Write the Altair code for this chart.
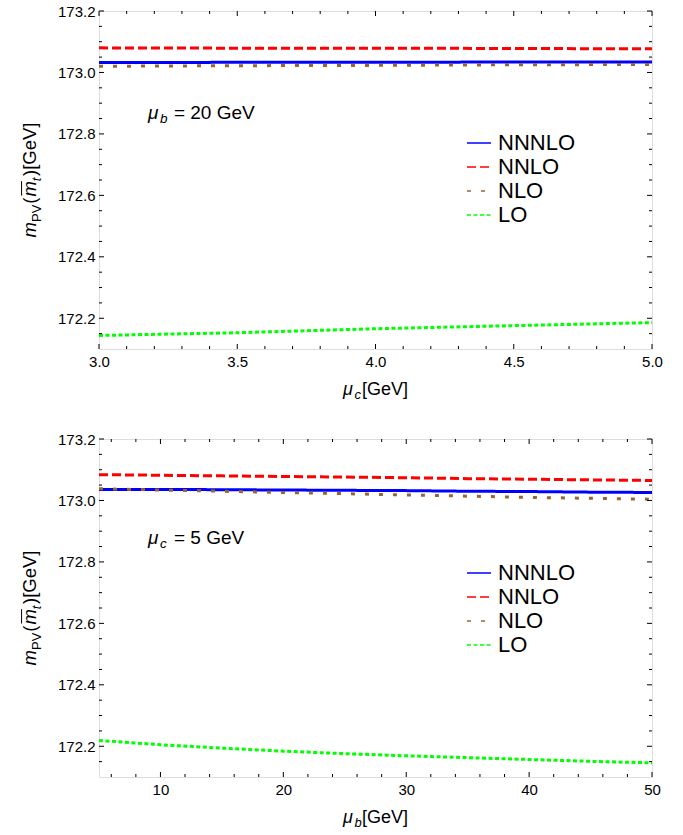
import altair as alt
import pandas as pd

FONT = "Liberation Sans"
SERIES = ["NNNLO", "NNLO", "NLO", "LO"]
COLORS = ["#0000ff", "#ff0000", "#996633", "#00ff00"]
DASHES = [[1, 0], [9, 4], [4, 10], [4, 2.5]]

# ---- top panel: scan in mu_c (mu_b = 20 GeV)
mu_c = [3.0, 3.5, 4.0, 4.5, 5.0]
top_nnnlo = [173.032, 173.033, 173.033, 173.034, 173.034]
top_nnlo = [173.080, 173.079, 173.079, 173.078, 173.077]
top_nlo = [173.020, 173.022, 173.023, 173.025, 173.026]
top_lo = [172.144, 172.153, 172.166, 172.176, 172.186]

# ---- bottom panel: scan in mu_b (mu_c = 5 GeV)
mu_b = [5, 10, 15, 20, 25, 30, 35, 40, 45, 50]
bot_nnnlo = [173.036, 173.036, 173.035, 173.034, 173.033, 173.032, 173.030, 173.029, 173.027, 173.026]
bot_nnlo = [173.084, 173.082, 173.080, 173.078, 173.076, 173.074, 173.071, 173.069, 173.067, 173.065]
bot_nlo = [173.038, 173.034, 173.030, 173.026, 173.022, 173.018, 173.014, 173.010, 173.007, 173.004]
bot_lo = [172.219, 172.205, 172.194, 172.184, 172.176, 172.169, 172.163, 172.157, 172.151, 172.146]

# ---- ticks
y_major = [172.2, 172.4, 172.6, 172.8, 173.0, 173.2]
y_minor = [172.15, 172.25, 172.3, 172.35, 172.45, 172.5, 172.55, 172.65, 172.7,
           172.75, 172.85, 172.9, 172.95, 173.05, 173.1, 173.15]
xc_major = [3.0, 3.5, 4.0, 4.5, 5.0]
xc_minor = [3.1, 3.2, 3.3, 3.4, 3.6, 3.7, 3.8, 3.9, 4.1, 4.2, 4.3, 4.4, 4.6, 4.7, 4.8, 4.9]
xb_major = [10, 20, 30, 40, 50]
xb_minor = [6, 8, 12, 14, 16, 18, 22, 24, 26, 28, 32, 34, 36, 38, 42, 44, 46, 48]

W, H = 553, 338
MAJ, MIN = 5, 3


def one():
    return pd.DataFrame({"k": [0]})


def panel(xs, vals, xdom, xmaj, xmin, xfmt, xsub, note_sub, note_rest, note_x, note_y, legend_y):
    rows = []
    for name, v in zip(SERIES, vals):
        for a, b in zip(xs, v):
            rows.append({"x": a, "y": b, "order": name})
    df = pd.DataFrame(rows)
    xscale = alt.Scale(domain=xdom, nice=False, zero=False)
    yscale = alt.Scale(domain=[172.1, 173.2], nice=False, zero=False)
    xaxis = alt.Axis(values=xmaj, format=xfmt, title=None, ticks=False, domain=False, grid=False,
                     labelFlush=False, labelPadding=5, labelFontSize=15, labelFont=FONT,
                     labelColor="black")
    yaxis = alt.Axis(values=y_major, format=".1f", title=None, ticks=False, domain=False, grid=False,
                     labelFlush=False, labelPadding=4, labelFontSize=15, labelFont=FONT,
                     labelColor="black")
    X = lambda f: alt.X(f, type="quantitative", scale=xscale, axis=xaxis)
    Y = lambda f: alt.Y(f, type="quantitative", scale=yscale, axis=yaxis)

    leg = alt.Legend(title=None, orient="none", legendX=367, legendY=legend_y, padding=0,
                     labelFont=FONT, labelFontSize=22, labelColor="black", symbolType="stroke",
                     symbolSize=576, symbolStrokeWidth=1.3, labelOffset=6, rowPadding=0)
    lines = alt.Chart(df).mark_line(strokeWidth=3, clip=True).encode(
        x=X("x"), y=Y("y"),
        color=alt.Color("order:N", scale=alt.Scale(domain=SERIES, range=COLORS), legend=leg),
        strokeDash=alt.StrokeDash("order:N", scale=alt.Scale(domain=SERIES, range=DASHES), legend=leg),
    )

    layers = [lines]
    # inward frame ticks
    for vals_, ln in ((xmaj, MAJ), (xmin, MIN)):
        d = pd.DataFrame({"x": vals_})
        layers.append(alt.Chart(d).mark_rule(color="black", strokeWidth=1).encode(
            x=X("x"), y=alt.value(H), y2=alt.value(H - ln)))
        layers.append(alt.Chart(d).mark_rule(color="black", strokeWidth=1).encode(
            x=X("x"), y=alt.value(0), y2=alt.value(ln)))
    for vals_, ln in ((y_major, MAJ), (y_minor, MIN)):
        d = pd.DataFrame({"y": vals_})
        layers.append(alt.Chart(d).mark_rule(color="black", strokeWidth=1).encode(
            y=Y("y"), x=alt.value(0), x2=alt.value(ln)))
        layers.append(alt.Chart(d).mark_rule(color="black", strokeWidth=1).encode(
            y=Y("y"), x=alt.value(W), x2=alt.value(W - ln)))

    # y-axis title  m_PV( m̄_t )[GeV]  (rotated)
    F, FS, XB = 18.5, 13, -63
    pieces = [("m", F, "italic", 0, 0.833 * F), ("PV", FS, "normal", 4.5, 1.334 * FS + 1),
              ("(", F, "normal", 0, 0.333 * F + 1), ("m", F, "italic", 0, 0.833 * F),
              ("t", FS, "italic", 4.5, 0.278 * FS + 1.5), (")", F, "normal", 0, 0.333 * F),
              ("[GeV]", F, "normal", 0, 2.557 * F)]
    total = sum(p[4] for p in pieces)
    y0 = H / 2 + total / 2
    cum = 0
    for txt, sz, st, sh, w in pieces:
        layers.append(alt.Chart(one()).mark_text(
            text=txt, font=FONT, fontSize=sz, fontStyle=st, angle=270, align="left",
            baseline="alphabetic", color="black").encode(
            x=alt.value(XB + sh), y=alt.value(y0 - cum)))
        if txt == "m" and cum > 0:
            layers.append(alt.Chart(one()).mark_rule(color="black", strokeWidth=1).encode(
                x=alt.value(XB - 0.78 * F), y=alt.value(y0 - cum - 1), y2=alt.value(y0 - cum - w)))
        cum += w

    # x-axis title  mu_x[GeV]
    G, GS = 18, 13
    xp = [("μ", G, "italic", 0, 0.576 * G + 1), (xsub, GS, "italic", 4, 0.5 * GS + 1),
          ("[GeV]", G, "normal", 0, 2.557 * G)]
    tot = sum(p[4] for p in xp)
    x0 = W / 2 - tot / 2
    cum = 0
    for txt, sz, st, sh, w in xp:
        layers.append(alt.Chart(one()).mark_text(
            text=txt, font=FONT, fontSize=sz, fontStyle=st, align="left",
            baseline="alphabetic", color="black").encode(
            x=alt.value(x0 + cum), y=alt.value(H + 46 + sh)))
        cum += w

    # annotation  mu_b = 20 GeV
    A, AS = 19, 13.5
    ap = [("μ", A, "italic", 0, 0.576 * A + 1), (note_sub, AS, "italic", 4, 0.556 * AS + 6.5),
          (note_rest, A, "normal", 0, 0)]
    cum = 0
    for txt, sz, st, sh, w in ap:
        layers.append(alt.Chart(one()).mark_text(
            text=txt, font=FONT, fontSize=sz, fontStyle=st, align="left",
            baseline="alphabetic", color="black", dx=cum, dy=sh).encode(
            x=alt.X(datum=note_x, type="quantitative", scale=xscale, axis=xaxis),
            y=alt.Y(datum=note_y, type="quantitative", scale=yscale, axis=yaxis)))
        cum += w

    return alt.layer(*layers).properties(width=W, height=H).resolve_scale(
        color="independent", strokeDash="independent")


top = panel(mu_c, [top_nnnlo, top_nnlo, top_nlo, top_lo], [3.0, 5.0], xc_major, xc_minor, ".1f",
            "c", "b", "= 20 GeV", 3.177, 172.847, 119)
bottom = panel(mu_b, [bot_nnnlo, bot_nnlo, bot_nlo, bot_lo], [5, 50], xb_major, xb_minor, "d",
               "b", "c", "= 5 GeV", 8.99, 172.857, 121)

chart = alt.vconcat(top, bottom, spacing=90, bounds="flush").resolve_scale(
    color="independent", strokeDash="independent", x="independent", y="independent"
).properties(padding={"left": 20, "top": 3, "right": 10, "bottom": 5}).configure_view(
    stroke="black", strokeWidth=1
).configure(background="white")

chart.save("out.html", embed_options={"renderer": "svg", "actions": False})
